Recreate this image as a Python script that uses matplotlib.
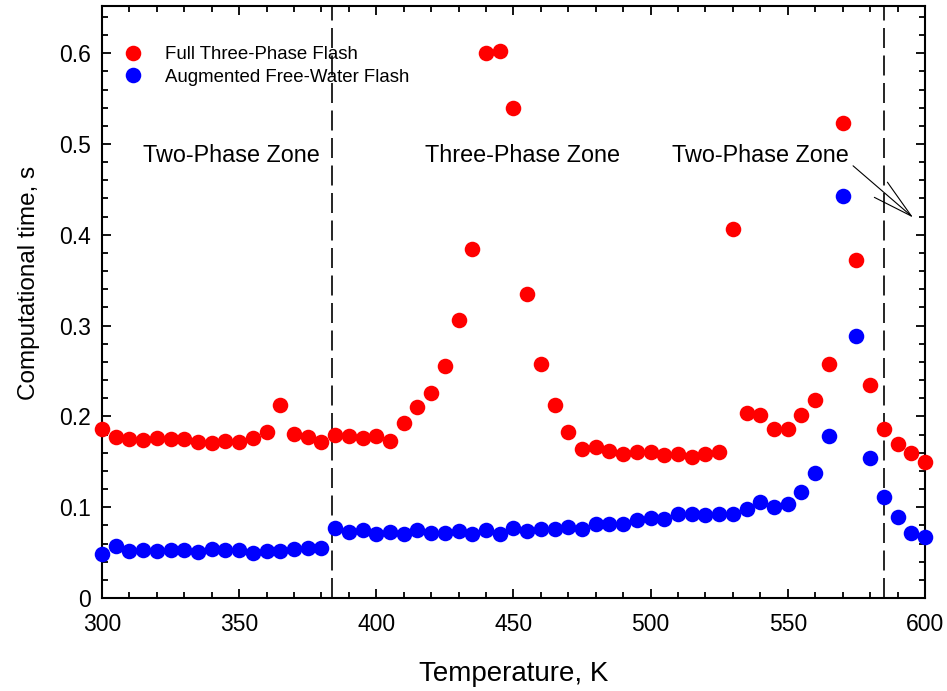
import numpy as np
import matplotlib
matplotlib.use("Agg")
import matplotlib.pyplot as plt
from matplotlib.ticker import MultipleLocator, FormatStrFormatter

plt.rcParams['font.family'] = ['Liberation Sans', 'DejaVu Sans']

# temperature grid, K
temperature = list(range(300, 601, 5))

# computational time, s
full_three_phase = [
    0.186, 0.177, 0.175, 0.174, 0.176, 0.175, 0.175, 0.172, 0.171, 0.173,
    0.172, 0.176, 0.183, 0.213, 0.181, 0.177, 0.172, 0.180, 0.178, 0.176,
    0.178, 0.173, 0.193, 0.210, 0.226, 0.256, 0.306, 0.384, 0.600, 0.602,
    0.540, 0.335, 0.258, 0.213, 0.183, 0.164, 0.166, 0.162, 0.159, 0.161,
    0.161, 0.158, 0.159, 0.155, 0.159, 0.161, 0.406, 0.204, 0.201, 0.186,
    0.186, 0.201, 0.218, 0.258, 0.523, 0.372, 0.235, 0.186, 0.170, 0.160,
    0.150,
]
augmented_free_water = [
    0.049, 0.057, 0.052, 0.053, 0.052, 0.053, 0.053, 0.051, 0.054, 0.053,
    0.053, 0.050, 0.052, 0.052, 0.054, 0.055, 0.055, 0.077, 0.073, 0.075,
    0.071, 0.073, 0.071, 0.075, 0.072, 0.072, 0.074, 0.071, 0.075, 0.071,
    0.077, 0.074, 0.076, 0.076, 0.078, 0.076, 0.081, 0.082, 0.082, 0.086,
    0.088, 0.087, 0.093, 0.092, 0.091, 0.092, 0.092, 0.098, 0.106, 0.100,
    0.103, 0.117, 0.138, 0.178, 0.443, 0.289, 0.154, 0.111, 0.089, 0.072,
    0.067,
]

# phase boundaries, K
boundaries = [384, 585]

fig = plt.figure(figsize=(9.47, 6.91), dpi=100)
ax = fig.add_axes([0.1077, 0.1346, 0.869, 0.8567])

ax.plot(temperature, full_three_phase, 'o', color='#ff0000', ms=11.2,
        mew=0, label='Full Three-Phase Flash', clip_on=False, zorder=3)
ax.plot(temperature, augmented_free_water, 'o', color='#0000ff', ms=11.2,
        mew=0, label='Augmented Free-Water Flash', clip_on=False, zorder=3)

for b in boundaries:
    ax.axvline(b, color='black', lw=1.2, dashes=(12, 4.5), zorder=2)

ax.text(347, 0.487, 'Two-Phase Zone', fontsize=16.8, ha='center', va='center')
ax.text(453.3, 0.487, 'Three-Phase Zone', fontsize=16.8, ha='center', va='center')
ax.text(540, 0.487, 'Two-Phase Zone', fontsize=16.8, ha='center', va='center')
ax.annotate('', xy=(595.7, 0.419), xytext=(573.8, 0.476),
            arrowprops=dict(arrowstyle='->,head_length=2.9,head_width=0.72',
                            lw=0.8, color='black', mutation_scale=10,
                            shrinkA=0, shrinkB=0))

ax.set_xlim(300, 600)
ax.set_ylim(0, 0.652)
ax.xaxis.set_major_locator(MultipleLocator(50))
ax.xaxis.set_minor_locator(MultipleLocator(10))
ax.yaxis.set_major_locator(MultipleLocator(0.1))
ax.yaxis.set_minor_locator(MultipleLocator(0.02))
ax.yaxis.set_major_formatter(FormatStrFormatter('%g'))

ax.tick_params(which='both', direction='in', top=True, right=True,
               width=1.3, labelsize=16.5)
ax.tick_params(which='major', length=6.5)
ax.tick_params(which='minor', length=4.3)
ax.tick_params(axis='x', which='major', pad=11)
ax.tick_params(axis='y', which='major', pad=8)
for s in ax.spines.values():
    s.set_linewidth(1.5)

ax.set_xlabel('Temperature, K', fontsize=20, labelpad=18)
ax.set_ylabel('Computational time, s', fontsize=17.5)
ax.yaxis.set_label_coords(-0.075, 0.532)

ax.legend(loc='upper left', bbox_to_anchor=(0.027, 0.932), frameon=False,
          fontsize=13.4, handlelength=0.9, handletextpad=1.3,
          labelspacing=0.3, borderpad=0, borderaxespad=0)

fig.savefig('out.png', dpi=100)
